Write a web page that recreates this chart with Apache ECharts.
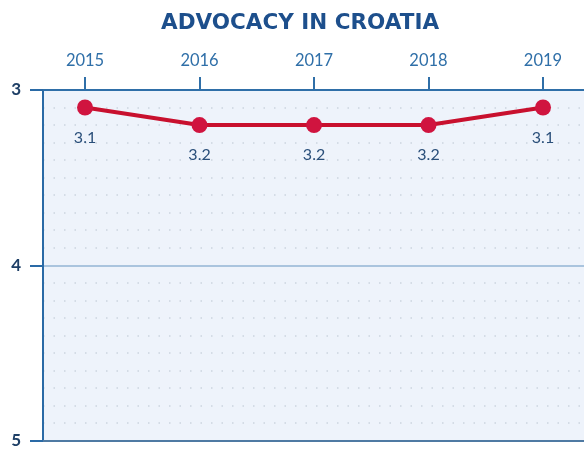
<!DOCTYPE html>
<html>
<head>
<meta charset="utf-8">
<script src="https://cdn.jsdelivr.net/npm/echarts@6/dist/echarts.min.js"></script>
<style>
html,body{margin:0;padding:0;background:#fff;}
#chart{width:584px;height:449px;}
</style>
</head>
<body>
<div id="chart"></div>
<script>
const titleText = 'ADVOCACY IN CROATIA';
const years = [2015, 2016, 2017, 2018, 2019];
const scores = [3.1, 3.2, 3.2, 3.2, 3.1];
const yTicks = [3, 4, 5];

const chart = echarts.init(document.getElementById('chart'));
const seriesData = years.map((y, i) => [y, scores[i]]);

chart.setOption({
  backgroundColor: '#ffffff',
  animation: false,
  title: {
    text: titleText,
    left: 156,
    top: 7,
    textStyle: { fontFamily: 'DejaVu Sans', fontWeight: 'bold', fontSize: 21.5, color: '#1d4f8c' }
  },
  grid: {
    left: 43, top: 90, bottom: 5, right: 0,
    show: true, backgroundColor: '#eef3fb', borderWidth: 0
  },
  xAxis: [{
    type: 'value',
    position: 'top',
    min: 2014.633,
    max: 2019.358,
    axisLine: { show: true, lineStyle: { color: '#2f6fa8', width: 2 } },
    axisTick: { show: true, customValues: years, length: 13, inside: false, lineStyle: { color: '#2f6fa8', width: 2 } },
    axisLabel: { customValues: years, margin: 21, fontFamily: 'Lato', fontSize: 16.5, color: '#2f6fa8', formatter: v => String(v) },
    splitLine: { show: false }
  }, {
    type: 'value',
    position: 'bottom',
    min: 2014.633,
    max: 2019.358,
    axisLine: { show: true, lineStyle: { color: '#4f7aa3', width: 2 } },
    axisTick: { show: false },
    axisLabel: { show: false },
    splitLine: { show: false }
  }],
  yAxis: {
    type: 'value',
    inverse: true,
    min: 3, max: 5, interval: 1,
    axisLine: { show: true, lineStyle: { color: '#2a6aa6', width: 2 } },
    axisTick: { show: true, length: 13, lineStyle: { color: '#2a6aa6', width: 2 } },
    axisLabel: { margin: 22, fontFamily: 'Lato', fontWeight: 'bold', fontSize: 17, color: '#1e3f66' },
    splitLine: { show: true, lineStyle: { color: '#aac4de', width: 2 } },
    minorTick: { show: false, splitNumber: 10 },
    minorSplitLine: { show: true, lineStyle: { color: '#ccd5e0', width: 1.5, type: [1.5, 9] } }
  },
  series: [{
    type: 'line',
    xAxisIndex: 0,
    data: seriesData,
    symbol: 'circle',
    symbolSize: 16,
    lineStyle: { color: '#c8102e', width: 4 },
    itemStyle: { color: '#d0143f' },
    label: {
      show: true, position: 'bottom', distance: 14,
      fontFamily: 'Lato', fontSize: 16, color: '#2a4f7a',
      formatter: p => p.value[1].toFixed(1)
    },
    z: 5
  }]
});
</script>
</body>
</html>
